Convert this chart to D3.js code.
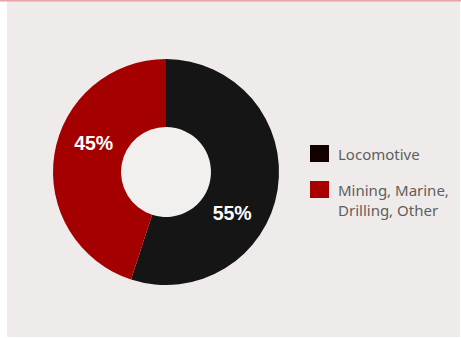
<!DOCTYPE html>
<html>
<head>
<meta charset="utf-8">
<script src="https://cdn.jsdelivr.net/npm/d3@7"></script>
<style>
  html, body { margin: 0; padding: 0; background: #ffffff; }
  svg { display: block; }
</style>
</head>
<body>
<svg id="chart" width="461" height="338"></svg>
<script>
// Segment share of engine sales
const categories = ["Locomotive", "Mining, Marine, Drilling, Other"];
const legendLines = [["Locomotive"], ["Mining, Marine,", "Drilling, Other"]];
const shares = [55, 45];
const sliceColors = ["#151515", "#a40000"];
const legendColors = ["#120000", "#a80000"];
// angular nudge (degrees) applied to each percentage label
const labelShift = [23, 13];

const svg = d3.select("#chart");
const W = 461, H = 338;

// card background with thin accent rule on top
svg.append("rect").attr("x", 7).attr("y", 0).attr("width", W - 8).attr("height", 337)
  .attr("fill", "#efebea");
svg.append("rect").attr("x", 0).attr("y", 0).attr("width", W).attr("height", 1.5)
  .attr("fill", "#e9a3a3");

const cx = 166, cy = 172, rOuter = 113, rInner = 45;

const pie = d3.pie().sort(null).value(d => d);
const arcs = pie(shares);
const arc = d3.arc().innerRadius(rInner).outerRadius(rOuter);

const g = svg.append("g").attr("transform", `translate(${cx},${cy})`);
// slightly lighter disc in the hole
g.append("circle").attr("r", rInner).attr("fill", "#f2f0ef");
g.selectAll("path.slice").data(arcs).join("path")
  .attr("class", "slice")
  .attr("d", arc)
  .attr("fill", (d, i) => sliceColors[i]);

const rad = Math.PI / 180;
const labelR = 78;
g.selectAll("text.pct").data(arcs).join("text")
  .attr("class", "pct")
  .attr("x", (d, i) => Math.sin((d.startAngle + d.endAngle) / 2 + labelShift[i] * rad) * labelR)
  .attr("y", (d, i) => -Math.cos((d.startAngle + d.endAngle) / 2 + labelShift[i] * rad) * labelR)
  .attr("text-anchor", "middle")
  .attr("dominant-baseline", "central")
  .attr("fill", "#ffffff")
  .attr("font-family", "Liberation Sans, Arial, sans-serif")
  .attr("font-weight", "bold")
  .attr("font-size", 19.5)
  .text(d => d.data + "%");

// legend: swatch plus one text element per line
const legend = svg.append("g").attr("transform", "translate(310,145)");
const item = legend.selectAll("g").data(categories).join("g")
  .attr("transform", (d, i) => `translate(0,${i * 36})`);
item.append("rect").attr("width", 19).attr("height", 17)
  .attr("fill", (d, i) => legendColors[i]);
item.selectAll("text").data((d, i) => legendLines[i]).join("text")
  .attr("x", 28)
  .attr("y", (d, j) => 14.5 + j * 20)
  .attr("fill", "#5e5e5e")
  .attr("font-family", "Noto Sans, sans-serif")
  .attr("font-size", 15)
  .text(d => d);
</script>
</body>
</html>
